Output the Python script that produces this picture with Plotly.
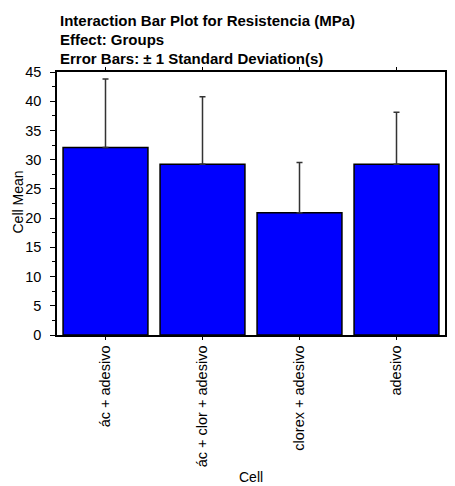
import plotly.graph_objects as go

categories = ["ác + adesivo", "ác + clor + adesivo", "clorex + adesivo", "adesivo"]
means = [32.1, 29.2, 20.9, 29.2]
sd_upper = [11.7, 11.55, 8.6, 8.9]
title_lines = [
    "Interaction Bar Plot for Resistencia (MPa)",
    "Effect: Groups",
    "Error Bars: ± 1 Standard Deviation(s)",
]

FONT = "Liberation Sans, Arial, sans-serif"
OFF = 8  # default page body margin
W, H = 455 - OFF, 486 - OFF
ml, mr, mt, mb = 57 - OFF, 3, 72 - OFF, 151
ph = H - mt - mb

fig = go.Figure()
fig.add_trace(go.Bar(
    x=categories, y=means,
    marker=dict(color="#0000FF", line=dict(color="black", width=1.5)),
    error_y=dict(type="data", array=sd_upper, arrayminus=[0]*len(means), symmetric=False,
                 color="#333333", thickness=1.5, width=3),
    showlegend=False,
))

annotations = []
centers = [20.5, 39.0, 58.0]
for line, cy in zip(title_lines, centers):
    annotations.append(dict(
        text=f"<b>{line}</b>", xref="paper", yref="paper", x=0, y=1,
        xanchor="left", yanchor="middle", xshift=1, yshift=72 - cy,
        showarrow=False, font=dict(family=FONT, size=15, color="black"),
    ))
annotations.append(dict(
    text="Cell Mean", xref="paper", yref="paper", x=0, y=0.5,
    xanchor="center", yanchor="middle", xshift=17.5 - 57, yshift=(72 + 263/2) - 202,
    textangle=-90, showarrow=False, font=dict(family=FONT, size=14, color="black"),
))
annotations.append(dict(
    text="Cell", xref="paper", yref="paper", x=0.5, y=0,
    xanchor="center", yanchor="middle", yshift=-(477 - 335),
    showarrow=False, font=dict(family=FONT, size=14, color="black"),
))

fig.update_layout(
    width=W, height=H,
    margin=dict(l=ml, r=mr, t=mt, b=mb, pad=0),
    paper_bgcolor="white", plot_bgcolor="white",
    bargap=0.125,
    font=dict(family=FONT, size=14, color="black"),
    annotations=annotations,
    xaxis=dict(
        range=[-0.5, 3.5], showline=True, linecolor="black", linewidth=1.5,
        mirror="ticks", ticks="outside", ticklen=3, tickcolor="black", tickwidth=1,
        tickangle=-90, showgrid=False, zeroline=False,
        tickfont=dict(family=FONT, size=14.5, color="black"),
    ),
    yaxis=dict(
        range=[0, 45], dtick=5, showline=True, linecolor="black", linewidth=1.5,
        mirror="ticks", ticks="outside", ticklen=5, tickcolor="black", tickwidth=1,
        minor=dict(dtick=2.5, ticks="outside", ticklen=3, tickcolor="black", tickwidth=1, showgrid=False),
        showgrid=False, zeroline=False, ticklabelstandoff=6,
        tickfont=dict(family=FONT, size=14.5, color="black"),
    ),
)

fig.write_html("out.html")
